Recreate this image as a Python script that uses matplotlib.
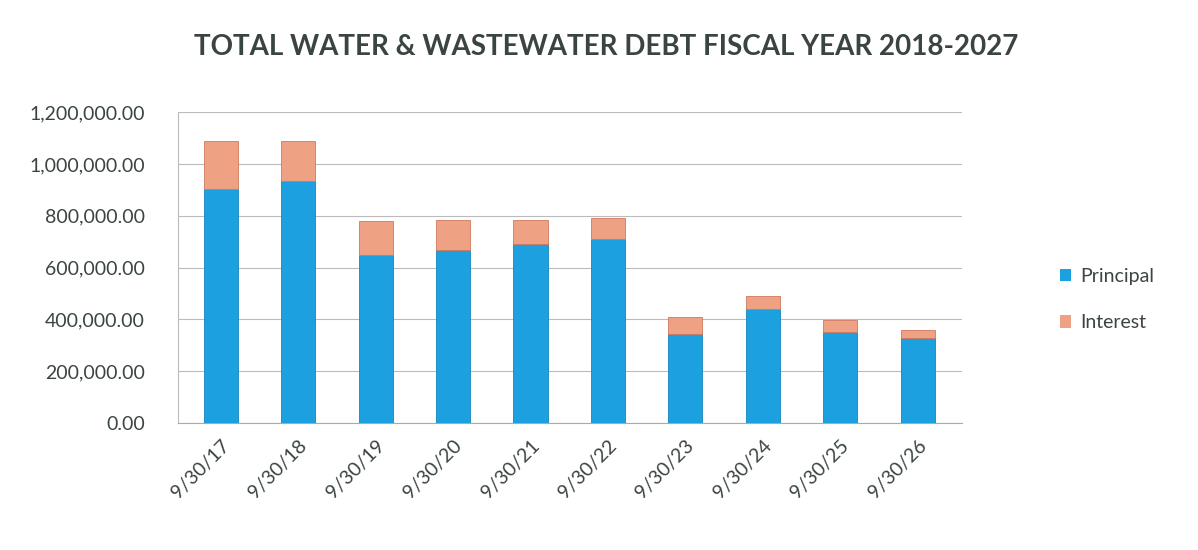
import matplotlib
matplotlib.use("Agg")
import matplotlib.pyplot as plt
from matplotlib.ticker import FuncFormatter, MultipleLocator
from matplotlib.patches import Patch

categories = ["9/30/17", "9/30/18", "9/30/19", "9/30/20", "9/30/21",
              "9/30/22", "9/30/23", "9/30/24", "9/30/25", "9/30/26"]
principal = [905000, 935000, 648000, 667000, 690000, 709000, 342000, 440000, 350000, 327000]
interest = [185000, 155000, 130000, 115000, 95000, 82000, 68000, 51000, 47000, 32000]

blue = "#1DA0DF"
salmon = "#EFA184"
text_col = "#3B4540"

plt.rcParams['font.family'] = ['Lato', 'DejaVu Sans']

fig = plt.figure(figsize=(11.98, 5.5), dpi=100)
ax = fig.add_axes([0.1486, 0.231, 0.803 - 0.1486, 0.565])

x = list(range(len(categories)))
ax.bar(x, principal, width=0.44, color=blue, edgecolor="#1585BD", linewidth=0.6, label="Principal", zorder=3)
ax.bar(x, interest, width=0.44, bottom=principal, color=salmon, edgecolor="#D0785C", linewidth=0.6, label="Interest", zorder=3)

ax.set_xlim(-0.55, 9.57)
ax.set_ylim(0, 1200000)
ax.yaxis.set_major_locator(MultipleLocator(200000))
ax.yaxis.set_major_formatter(FuncFormatter(lambda v, p: f"{v:,.2f}"))
ax.grid(axis='y', color="#BBBBBB", linewidth=0.8, zorder=0)

ax.set_xticks(x)
ax.set_xticklabels(categories, rotation=45, ha='right', rotation_mode='anchor')
ax.tick_params(axis='x', length=0, pad=10, labelsize=14, labelcolor=text_col)
ax.tick_params(axis='y', length=0, pad=24, labelsize=14, labelcolor=text_col)

for s in ['top', 'right']:
    ax.spines[s].set_visible(False)
ax.spines['left'].set_color("#BBBBBB")
ax.spines['bottom'].set_color("#AAAAAA")

fig.text(0.506, 0.915, "TOTAL WATER & WASTEWATER DEBT FISCAL YEAR 2018-2027",
         ha='center', va='center', fontsize=20, fontweight='bold', color=text_col)

handles = [Patch(facecolor=blue, edgecolor='none'), Patch(facecolor=salmon, edgecolor='none')]
fig.legend(handles, ["Principal", "Interest"], loc='center left',
           bbox_to_anchor=(0.87, 0.455), frameon=False, fontsize=14,
           labelcolor=text_col, handlelength=0.6, handleheight=0.6,
           handletextpad=0.45, labelspacing=1.5)

fig.savefig("out.png", dpi=100, facecolor="white")
